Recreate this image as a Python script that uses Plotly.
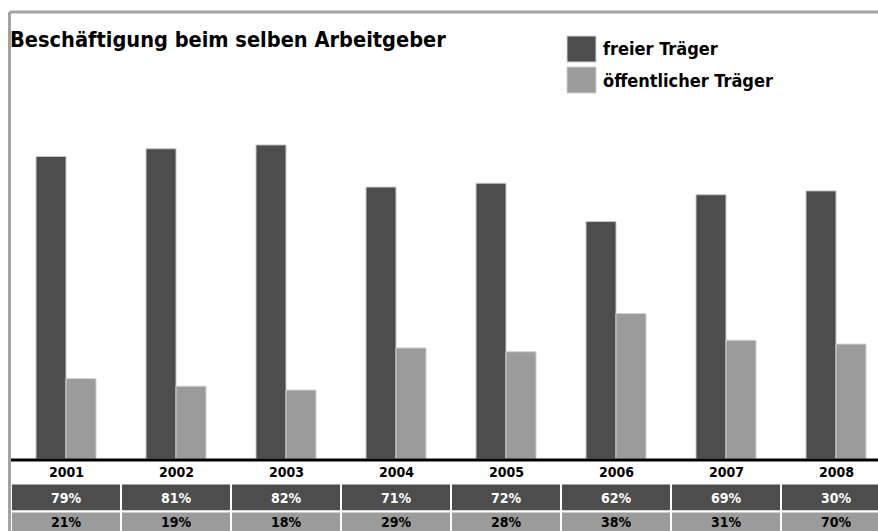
import plotly.graph_objects as go

years = ["2001", "2002", "2003", "2004", "2005", "2006", "2007", "2008"]
freier = [79, 81, 82, 71, 72, 62, 69, 70]
oeffentlich = [21, 19, 18, 29, 28, 38, 31, 30]
freier_labels = ["79%", "81%", "82%", "71%", "72%", "62%", "69%", "30%"]
oeffentlich_labels = ["21%", "19%", "18%", "29%", "28%", "38%", "31%", "70%"]
title_text = "Beschäftigung beim selben Arbeitgeber"
legend_names = ["freier Träger", "öffentlicher Träger"]

DARK = "#4d4d4d"
LIGHT = "#9b9b9b"
FONT = "DejaVu Sans Condensed, sans-serif"

W, H = 878, 531
SL, ST, SB = 11, 76, 459          # plot left, top, bottom (baseline) in pixels
L = SL
T = ST
B = H - SB
R = 0
PW = W - L - R
PH = H - T - B


def px(x):
    return (x - L) / PW


def py(y):
    return (SB - y) / PH


fig = go.Figure()
fig.add_trace(go.Bar(x=years, y=freier, name=legend_names[0], marker=dict(color=DARK, line=dict(color="#c8c8c8", width=1)), showlegend=False))
fig.add_trace(go.Bar(x=years, y=oeffentlich, name=legend_names[1], marker=dict(color=LIGHT, line=dict(color="#d0d0d0", width=1)), showlegend=False))

shapes = []
annotations = []

# frame
shapes.append(dict(type="line", xref="paper", yref="paper", x0=px(9.5), x1=px(900), y0=py(12), y1=py(12), line=dict(color="#a3a3a3", width=3)))
shapes.append(dict(type="line", xref="paper", yref="paper", x0=px(9.5), x1=px(9.5), y0=py(12), y1=py(560), line=dict(color="#a3a3a3", width=3)))

# table cells
n = len(years)
for i in range(n):
    shapes.append(dict(type="rect", xref="x", yref="paper", x0=i - 0.5, x1=i + 0.5, y0=py(511.5), y1=py(483.5), fillcolor=DARK, line=dict(color="white", width=2), layer="above"))
    shapes.append(dict(type="rect", xref="x", yref="paper", x0=i - 0.5, x1=i + 0.5, y0=py(545), y1=py(511.5), fillcolor=LIGHT, line=dict(color="white", width=2), layer="above"))
    annotations.append(dict(xref="x", yref="paper", x=i, y=py(472), text="<b>" + years[i] + "</b>", showarrow=False, font=dict(family=FONT, size=14, color="black"), yanchor="middle"))
    annotations.append(dict(xref="x", yref="paper", x=i, y=py(498), text="<b>" + freier_labels[i] + "</b>", showarrow=False, font=dict(family=FONT, size=14, color="white"), yanchor="middle"))
    annotations.append(dict(xref="x", yref="paper", x=i, y=py(522), text="<b>" + oeffentlich_labels[i] + "</b>", showarrow=False, font=dict(family=FONT, size=14, color="black"), yanchor="middle"))

# baseline
shapes.append(dict(type="line", xref="paper", yref="paper", x0=px(11), x1=px(890), y0=py(460), y1=py(460), line=dict(color="black", width=3), layer="above"))

# legend
for k, (name, col) in enumerate(zip(legend_names, [DARK, LIGHT])):
    y0 = 36 + 31 * k
    shapes.append(dict(type="rect", xref="paper", yref="paper", x0=px(567), x1=px(596), y0=py(y0 + 26), y1=py(y0), fillcolor=col, line=dict(color="#d0d0d0", width=1)))
    annotations.append(dict(xref="paper", yref="paper", x=px(601), y=py(y0 + 13), text="<b>" + name + "</b>", showarrow=False, xanchor="left", yanchor="middle", font=dict(family=FONT, size=18, color="black")))

# title
annotations.append(dict(xref="paper", yref="paper", x=px(8), y=py(40), text="<b>" + title_text + "</b>", showarrow=False, xanchor="left", yanchor="middle", font=dict(family=FONT, size=21.6, color="black")))

fig.update_layout(
    width=W, height=H,
    margin=dict(l=L, r=R, t=T, b=B),
    paper_bgcolor="white", plot_bgcolor="white",
    barmode="group", bargap=0.4545, bargroupgap=0,
    xaxis=dict(visible=False, range=[-0.5, -0.5 + PW / 110], type="category"),
    yaxis=dict(visible=False, range=[0, 100]),
    shapes=shapes, annotations=annotations,
    showlegend=False,
)

fig.write_html("out.html", config={"displayModeBar": False},
               post_script="document.body.style.margin='0';document.body.style.overflow='hidden';")
